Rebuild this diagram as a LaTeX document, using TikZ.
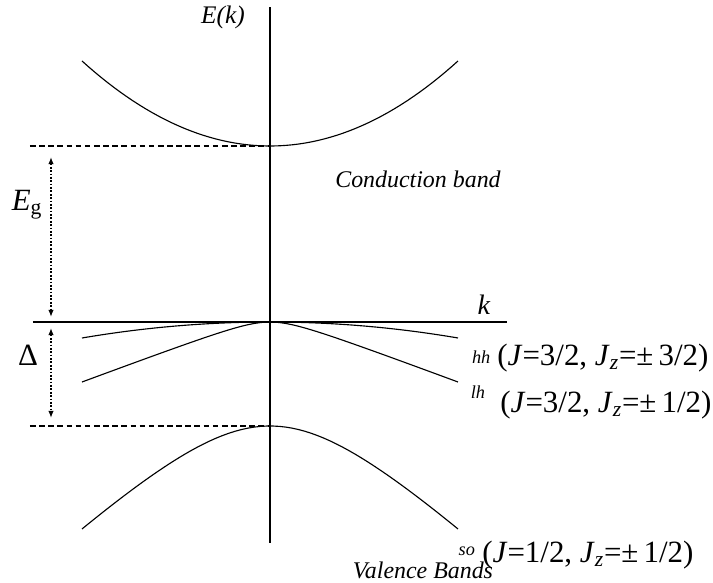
\documentclass[tikz,border=0pt]{standalone}
\usepackage{fontspec}
\setmainfont{Liberation Serif}
\usepackage{tikz}
\usetikzlibrary{arrows.meta,positioning}
\tikzset{
  axl/.style={line width=1.4pt},
  bnd/.style={line width=0.8pt,samples=60},
  guide/.style={line width=0.8pt,dash pattern=on 4pt off 2.5pt},
  gapar/.style={{Latex[length=1.8mm,width=1.4mm]}-{Latex[length=1.8mm,width=1.4mm]},line width=1pt,dash pattern=on 1.2pt off 1.2pt},
  big/.style={font=\fontsize{22}{24}\selectfont,inner sep=0pt},
  itl/.style={font=\fontsize{17}{19}\selectfont\itshape,inner sep=0pt},
  tag/.style={font=\fontsize{13}{15}\selectfont\itshape,inner sep=0pt},
  jlab/.style={font=\fontsize{22}{24}\selectfont,inner sep=0pt,anchor=west}
}
\newcommand{\jz}[2]{(\textit{J}=#1, \textit{J}\textsubscript{\textit{z}}=±\,#2)}

\begin{document}
\begin{tikzpicture}
\useasboundingbox (-6.75,-6.525) rectangle (11.075,8.05);
% axes
\coordinate (ktop) at (0,7.875);
\coordinate (kbot) at (0,-5.525);
\coordinate (kl) at (-5.925,0);
\coordinate (kr) at (5.925,0);
\draw[axl] (kbot) -- (ktop);
\draw[axl] (kl) -- (kr);
% bands
\draw[bnd,domain=-4.7:4.7] plot ({\x},{4.4+0.0962*\x*\x});
\draw[bnd,domain=-4.7:4.7] plot ({\x},{-0.0181*\x*\x});
\draw[bnd,domain=-4.7:4.7] plot ({\x},{-0.2806*(sqrt(1+(\x/0.75)^2)-1)});
\draw[bnd,domain=-4.7:4.7] plot ({\x},{-2.6-2.45*(sqrt(1+(\x/2.625)^2)-1)});
% band edges
\coordinate (cbmin) at (0,4.4);
\coordinate (cbl) at (-6,4.4);
\coordinate (somax) at (0,-2.6);
\coordinate (sol) at (-6,-2.6);
\draw[guide] (cbl) -- (cbmin);
\draw[guide] (sol) -- (somax);
\coordinate (eg1) at (-5.475,4.125);
\coordinate (eg2) at (-5.475,0.125);
\coordinate (dl1) at (-5.475,-0.15);
\coordinate (dl2) at (-5.475,-2.4);
\draw[gapar] (eg1) -- (eg2);
\draw[gapar] (dl1) -- (dl2);
% labels
\node[big] (eg) at (-6.075,2.925) {\textit{E}\textsubscript{g}};
\node[big] (dlt) at (-6.05,-0.825) {Δ};
\node[big,font=\fontsize{20}{22}\selectfont] (kx) at (5.35,0.425) {\textit{k}};
\node[itl,font=\fontsize{18}{20}\selectfont\itshape] (ek) at (-1.175,7.625) {E(k)};
\node[itl] (cbt) at (3.7,3.575) {Conduction band};
\node[itl] (vbt) at (3.825,-6.2) {Valence Bands};
\node[tag] (hh) at (5.28,-0.875) {hh};
\node[tag] (lh) at (5.2,-1.75) {lh};
\node[tag] (so) at (4.92,-5.72) {so};
\node[jlab] (hhj) at (5.675,-0.9) {\jz{3/2}{3/2}};
\node[jlab] (lhj) at (5.75,-2.075) {\jz{3/2}{1/2}};
\node[jlab] (soj) at (5.3,-5.825) {\jz{1/2}{1/2}};
\end{tikzpicture}
\end{document}
